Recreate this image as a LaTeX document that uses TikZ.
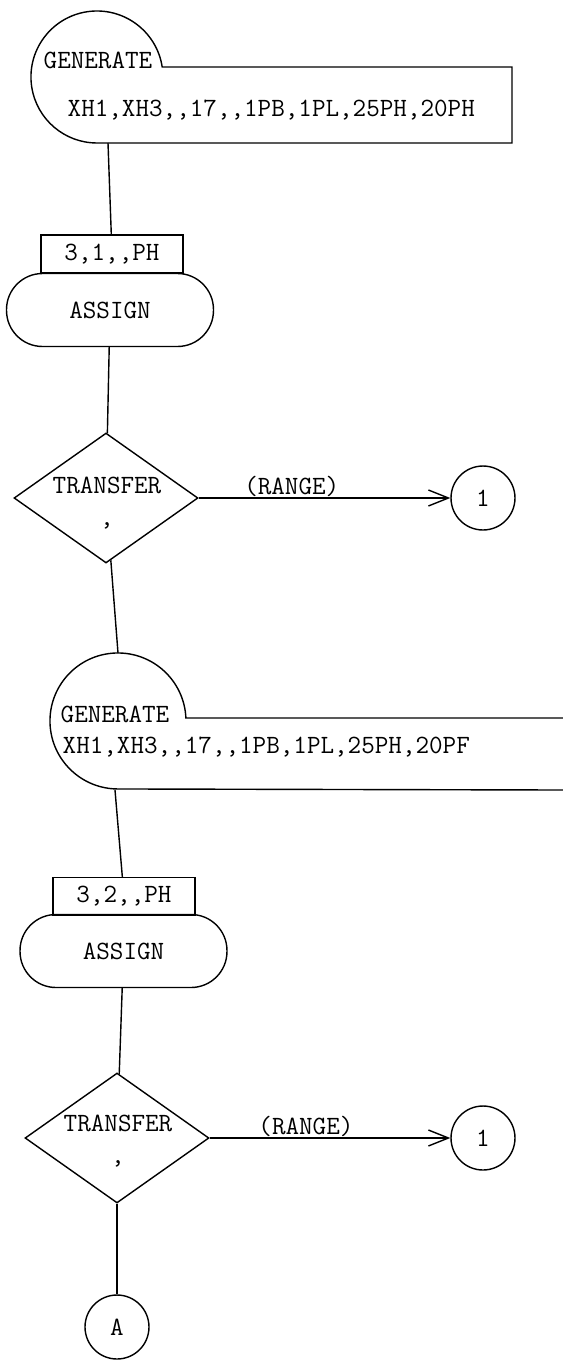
\documentclass[tikz,border=0pt]{standalone}
\usepackage{fontspec}
\usepackage{tikz}
\usetikzlibrary{shapes,arrows,arrows.meta,positioning,calc}

\begin{document}
\begin{tikzpicture}[
    x=0.02cm, y=0.02cm, line width=0.8pt,
    box/.style={draw, rectangle, minimum width=2.84cm, minimum height=0.76cm, inner sep=0pt, font=\fontsize{15}{18}\ttfamily},
    block/.style={draw, rectangle, rounded corners=0.72cm, minimum width=4.14cm, minimum height=1.46cm, inner sep=0pt, font=\fontsize{15}{18}\ttfamily},
    decision/.style={draw, diamond, minimum width=3.68cm, minimum height=2.6cm, inner sep=0pt},
    conn/.style={draw, circle, minimum size=1.28cm, inner sep=0pt, font=\fontsize{15}{18}\ttfamily},
    flow/.style={-{Straight Barb[length=4mm,width=3.2mm]}},
    label/.style={font=\fontsize{15}{18}\ttfamily, inner sep=0pt},
]

\useasboundingbox (0,0) rectangle (563,-1363);

% First GENERATE
\draw (512,-67) -- (162.2,-67) arc[start angle=8.7, end angle=270, radius=66] -- (512,-143) -- cycle;
\coordinate (g1s) at (108,-143);
\node[label, anchor=base west] (g1kw) at (43,-68) {GENERATE};
\node[label, anchor=base west] (g1op) at (67,-116) {XH1,XH3,,17,,1PB,1PL,25PH,20PH};

% First ASSIGN
\node[box] (b1) at (112,-254) {3,1,,PH};
\node[block] (a1) at (110,-310) {ASSIGN};

% First TRANSFER
\node[decision] (t1) at (106,-498) {};
\node[label, align=center] (t1kw) at (107,-503) {TRANSFER\\,};
\node[conn] (c1) at (483,-498) {1};

% Second GENERATE
\draw (563,-718) -- (185.9,-718) arc[start angle=2.5, end angle=270, radius=68] -- (563,-790);
\coordinate (g2n) at (118,-653);
\coordinate (g2s) at (115,-790);
\node[label, anchor=base west] (g2kw) at (60,-722) {GENERATE};
\node[label, anchor=base west] (g2op) at (62,-753) {XH1,XH3,,17,,1PB,1PL,25PH,20PF};

% Second ASSIGN
\node[box] (b2) at (124,-896.5) {3,2,,PH};
\node[block] (a2) at (123.5,-951) {ASSIGN};

% Second TRANSFER
\node[decision] (t2) at (117,-1138) {};
\node[label, align=center] (t2kw) at (118,-1141) {TRANSFER\\,};
\node[conn] (c2) at (483,-1138) {1};

% Exit
\node[conn] (ca) at (117,-1327) {A};

\draw (g1s) -- (b1);
\draw (a1) -- (t1);
\draw[flow] (t1) -- node[label, pos=.37, anchor=base, yshift=2pt] {(RANGE)} (c1);
\draw (t1) -- (g2n);
\draw (g2s) -- (b2);
\draw (a2) -- (t2);
\draw[flow] (t2) -- node[label, pos=.40, anchor=base, yshift=2pt] {(RANGE)} (c2);
\draw (t2) -- (ca);

\end{tikzpicture}
\end{document}
